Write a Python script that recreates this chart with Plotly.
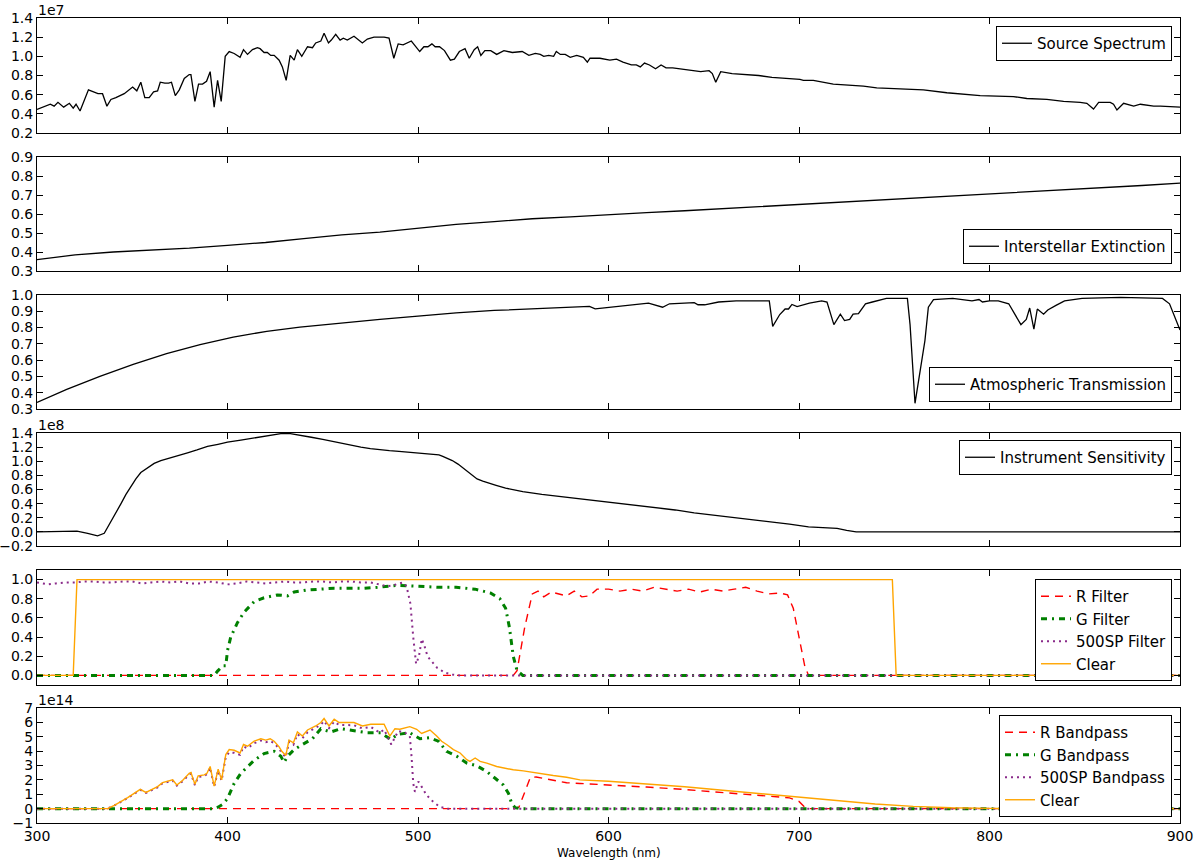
import plotly.graph_objects as go

# ---------------- DATA ----------------
wavelength_ticks = [300, 400, 500, 600, 700, 800, 900]

# Source spectrum (units of 1e7)
src_wl = [300, 304, 307, 309, 311, 314, 317, 319, 320.5, 322.6, 327, 332, 334.4, 336.7, 338.8, 341.4, 345.8,
          350.2, 352.4, 354.5, 356.6, 358.9, 361.2, 363.3, 364.7, 367.1, 369.1, 370.6, 372.6, 374.7, 377.3,
          379.9, 380.8, 382.9, 384.8, 386.9, 389, 390.9, 393, 394.8, 396.7, 398.8, 400.9, 403.5, 406.6, 408.4,
          410.5, 413.1, 415.7, 417.1, 419.2, 420.9, 422.7, 424.5, 427.1, 428.8, 430.8, 432.9, 435, 436.7, 439,
          442, 444.6, 446.3, 449, 450.7, 453, 454.5, 456.8, 459.1, 460.8, 462.9, 466.4, 470.8, 473.4, 476.9,
          482.2, 484.8, 487.3, 489.6, 492.2, 496.5, 500.9, 503.1, 505.2, 507.3, 509, 511.3, 513.9, 517, 519.1,
          521.7, 524.7, 526.9, 529.5, 531.3, 533, 535.1, 538.2, 541.3, 545.1, 549.5, 554.7, 558.2, 561.6, 564.2,
          566, 568.6, 571.2, 572.6, 574.7, 577.3, 579.9, 583.3, 586.8, 588.9, 590.3, 595.5, 600.7, 604.2, 607.6,
          612, 614.6, 616.7, 618.9, 621.5, 624.7, 627.6, 630.2, 633.7, 638, 640.6, 645, 648.4, 652.8, 654.5,
          656.3, 658.9, 664.9, 671.9, 678.8, 685.8, 693.6, 700.5, 702.3, 707.5, 718, 726.8, 733.8, 740.8, 751.3,
          765.3, 777.6, 784.6, 795.1, 812.6, 819.6, 830.1, 838.9, 847.6, 851.1, 854.6, 857.3, 863.4, 865.1,
          866.9, 870.4, 875.7, 879.2, 886.2, 889.7, 900]
src_flux = [0.445, 0.48, 0.50, 0.48, 0.52, 0.47, 0.51, 0.46, 0.50, 0.43, 0.65, 0.61, 0.61, 0.48, 0.55, 0.57, 0.61,
            0.68, 0.64, 0.73, 0.57, 0.57, 0.63, 0.64, 0.73, 0.72, 0.72, 0.73, 0.59, 0.65, 0.77,
            0.81, 0.81, 0.53, 0.71, 0.71, 0.74, 0.84, 0.47, 0.75, 0.53, 1.00, 1.05, 1.03, 0.99, 1.07,
            1.02, 1.07, 1.09, 1.08, 1.04, 1.04, 1.01, 1.01, 0.96, 0.89, 0.75, 1.01, 0.96, 1.07, 1.00,
            1.10, 1.09, 1.14, 1.16, 1.24, 1.14, 1.17, 1.23, 1.17, 1.19, 1.17, 1.21, 1.14, 1.18, 1.20,
            1.20, 1.19, 0.98, 1.13, 1.12, 1.16, 1.05, 1.10, 1.10, 1.13, 1.10, 1.10, 1.06, 0.96, 0.97,
            1.05, 1.08, 0.98, 1.07, 1.10, 1.01, 1.06, 1.06, 1.02, 1.06, 1.04, 1.05, 1.01, 1.03, 1.02,
            1.00, 1.01, 1.00, 1.05, 1.02, 1.02, 0.99, 1.01, 0.99, 0.94, 0.98, 0.98, 0.96, 0.97, 0.94,
            0.91, 0.91, 0.89, 0.93, 0.91, 0.87, 0.91, 0.88, 0.88, 0.87, 0.86, 0.85, 0.84, 0.85, 0.82,
            0.73, 0.84, 0.82, 0.81, 0.80, 0.78, 0.77, 0.76, 0.75, 0.75, 0.71, 0.70, 0.69, 0.67, 0.66,
            0.65, 0.62, 0.61, 0.59, 0.58, 0.56, 0.55, 0.53, 0.52, 0.51, 0.45, 0.52, 0.52, 0.50,
            0.44, 0.51, 0.48, 0.50, 0.48, 0.48, 0.47]

# Interstellar extinction
ext_wl = [300, 320, 340, 360, 380, 400, 420, 440, 460, 480, 500, 520, 540, 560, 580, 600, 620, 640, 660, 680,
          700, 720, 740, 760, 780, 800, 820, 840, 860, 880, 900]
ext_val = [0.36, 0.385, 0.40, 0.41, 0.42, 0.435, 0.45, 0.47, 0.49, 0.505, 0.525, 0.545, 0.56, 0.575, 0.585, 0.597,
           0.607, 0.617, 0.628, 0.64, 0.65, 0.66, 0.672, 0.683, 0.694, 0.705, 0.717, 0.728, 0.74, 0.75, 0.763]

# Atmospheric transmission
atm_wl = [300, 315.6, 333, 350.5, 368, 385.6, 403, 420.6, 438, 460, 480, 500, 520, 540, 560, 580, 590, 593, 597,
          600, 610, 621, 628.4, 632, 645, 647, 650.5, 657.8, 667, 684.4, 686.2, 689.9, 692.7, 694.5, 696.3, 699,
          705.5, 711.9, 714.7, 718.3, 721.7, 723.9, 726.6, 728.4, 731.2, 734.9, 738.5, 745.9, 756.9, 758.3,
          760.9, 763.3, 766.1, 767.9, 770.6, 780.7, 786.2, 790.8, 794.5, 796.3, 800, 804.6, 810.1, 816.5, 819.3,
          821.1, 823.3, 825.1, 828.4, 830.6, 834.9, 839.4, 848.6, 868.8, 890.8, 894.5, 900]
atm_val = [0.34, 0.42, 0.50, 0.574, 0.64, 0.696, 0.742, 0.777, 0.803, 0.83, 0.85, 0.87, 0.89, 0.905, 0.915, 0.925,
           0.93, 0.915, 0.92, 0.925, 0.94, 0.95, 0.925, 0.946, 0.953, 0.94, 0.94, 0.957, 0.964, 0.964, 0.807, 0.88,
           0.914, 0.914, 0.942, 0.929, 0.95, 0.964, 0.957, 0.818, 0.882, 0.843, 0.85, 0.882, 0.886, 0.946, 0.957,
           0.979, 0.979, 0.818, 0.335, 0.517, 0.72, 0.925, 0.972, 0.979, 0.972, 0.964, 0.972, 0.957, 0.964, 0.964,
           0.946, 0.818, 0.85, 0.92, 0.79, 0.914, 0.882, 0.908, 0.936, 0.964, 0.979, 0.985, 0.979, 0.946, 0.785]

# Instrument sensitivity (units of 1e8)
ins_wl = [300, 310, 316, 321, 326.6, 331.8, 335.3, 338.8, 341.5, 344.1, 346.7, 349.3, 351.9, 354.5, 358, 361.5,
          365, 368.5, 374, 379, 384, 389.5, 395, 400, 407, 414, 421, 428, 433, 438.5, 444, 450, 455, 460, 465, 470,
          475, 480, 485, 490, 495, 500, 505, 508, 511, 513, 516, 518, 521, 523, 525, 527, 529, 531, 534, 536,
          541, 546, 555, 565, 575, 585, 595, 605, 615, 625, 635, 645, 655, 665, 675, 685, 695, 705, 712, 720,
          725, 730, 900]
ins_val = [0.0, 0.0, 0.005, 0.01, -0.02, -0.055, -0.02, 0.14, 0.27, 0.40, 0.53, 0.65, 0.75, 0.84, 0.91, 0.97,
           1.01, 1.04, 1.08, 1.12, 1.16, 1.21, 1.24, 1.27, 1.30, 1.33, 1.36, 1.39, 1.39, 1.37, 1.34, 1.31, 1.28,
           1.25, 1.22, 1.20, 1.18, 1.16, 1.15, 1.14, 1.13, 1.12, 1.11, 1.10, 1.09, 1.07, 1.04, 1.01, 0.96, 0.92,
           0.87, 0.83, 0.79, 0.75, 0.72, 0.70, 0.66, 0.62, 0.57, 0.53, 0.50, 0.47, 0.44, 0.40, 0.37, 0.34, 0.31,
           0.27, 0.24, 0.21, 0.18, 0.14, 0.11, 0.07, 0.06, 0.05, 0.02, 0.0, 0.0]

# Filters
r_filt_wl = [300, 550, 552, 556, 560, 563, 566, 570, 574, 578, 582, 586, 590, 594, 600, 606, 612, 618, 624, 630,
             636, 642, 648, 654, 660, 666, 672, 678, 684, 690, 694, 697, 700, 703, 705, 900]
r_filt_val = [0, 0, 0.05, 0.5, 0.85, 0.88, 0.82, 0.87, 0.85, 0.83, 0.88, 0.82, 0.83, 0.90, 0.90, 0.88, 0.90, 0.88,
              0.92, 0.90, 0.88, 0.90, 0.87, 0.90, 0.88, 0.90, 0.92, 0.88, 0.85, 0.86, 0.84, 0.70, 0.40, 0.10, 0.0, 0]

g_filt_wl = [300, 393, 394.8, 397.4, 399.1, 400, 401.7, 405.2, 408.7, 414, 419.2, 426.2, 431.5, 435, 441.1, 449,
             456, 463, 471.7, 478.7, 489.2, 500, 510, 520, 530, 538, 543, 546, 548, 550, 552, 555, 900]
g_filt_val = [0, 0, 0.045, 0.10, 0.10, 0.26, 0.40, 0.55, 0.66, 0.77, 0.81, 0.84, 0.83, 0.87, 0.89, 0.90,
              0.91, 0.91, 0.91, 0.92, 0.94, 0.93, 0.92, 0.92, 0.90, 0.86, 0.80, 0.70, 0.50, 0.20, 0.05, 0.0, 0]

sp_filt_wl = [300, 303, 306, 310, 315, 320, 325, 330, 335, 340, 345, 350, 355, 360, 365, 370, 375, 380, 385, 390,
              395, 400, 405, 410, 415, 420, 425, 430, 435, 440, 445, 450, 455, 460, 465, 470, 475, 480, 484, 487,
              490, 492, 494, 496, 497.5, 499, 500.5, 502, 503.5, 505, 507, 510, 514, 518, 522, 900]
sp_filt_val = [0.97, 0.96, 0.95, 0.96, 0.97, 0.97, 0.98, 0.98, 0.97, 0.97, 0.98, 0.98, 0.96, 0.97, 0.98, 0.97,
               0.98, 0.96, 0.96, 0.98, 0.97, 0.95, 0.96, 0.98, 0.97, 0.96, 0.97, 0.98, 0.97, 0.97, 0.98, 0.98,
               0.97, 0.98, 0.98, 0.97, 0.97, 0.95, 0.93, 0.94, 0.96, 0.97, 0.93, 0.75, 0.40, 0.12, 0.20, 0.38,
               0.30, 0.20, 0.15, 0.08, 0.03, 0.01, 0.0, 0.0]

clear_filt_wl = [300, 319, 321, 749, 751, 900]
clear_filt_val = [0, 0, 1.0, 1.0, 0, 0]

# Bandpasses (units of 1e14)
r_bp_wl = [300, 550, 553, 556, 559, 562, 565, 571, 578, 585, 600, 620, 640, 660, 680, 695, 700, 703, 705, 900]
r_bp_val = [0, 0, 0.1, 1.2, 2.18, 2.2, 2.12, 2.0, 1.8, 1.75, 1.65, 1.5, 1.33, 1.13, 0.93, 0.75, 0.5, 0.1, 0, 0]

g_bp_wl = [300, 393, 395, 397.5, 400, 403.5, 407, 410.5, 414, 419.2, 424.5, 428, 429.7, 431.5, 435, 439.3, 444.6,
           449, 454.2, 459.4, 466.4, 473.4, 480.4, 485.7, 489.2, 495.7, 501, 506.3, 510.7, 515, 520.4, 525.6,
           530.9, 536.1, 540.5, 544.8, 547.5, 549.2, 551, 553.6, 900]
g_bp_val = [0, 0, 0.1, 0.3, 0.7, 1.76, 2.46, 2.93, 3.36, 3.83, 3.99, 3.64, 3.22, 3.64, 4.11, 4.46, 4.86,
            5.56, 5.33, 5.56, 5.40, 5.28, 5.28, 4.81, 5.16, 5.28, 4.86, 4.93, 4.69, 3.99, 3.64, 3.17,
            2.98, 2.58, 2.11, 1.64, 1.06, 0.35, 0.07, 0, 0]

sp_bp_wl = [300, 325, 334, 337, 340.6, 344, 347.6, 351, 354.2, 357.2, 360.7, 363.3, 365.9, 368.5, 371.2, 373.4,
            376.4, 379.9, 380.8, 382.9, 384.6, 387.8, 389.2, 390.9, 393, 395.1, 396.9, 399.1, 400.9, 403.5, 406.6,
            408.4, 410.5, 414, 417.5, 420.1, 422.4, 424.5, 427.1, 428.5, 430.6, 432.3, 434.6, 436.7, 439.3, 442,
            446.3, 449, 450.7, 453.3, 456, 458.6, 461.2, 466.4, 470.8, 475.2, 480, 482.2, 486, 489.6, 493, 495.7,
            496.6, 497.5, 498.4, 500.2, 501.9, 504.5, 508, 511.5, 515, 900]
sp_bp_val = [0, -0.03, -0.02, 0, 0.22, 0.45, 0.74, 1.02, 1.30, 1.10, 1.30, 1.48, 1.76, 1.83, 1.95, 1.60,
             1.90, 2.38, 2.44, 1.63, 2.21, 2.27, 2.40, 2.85, 1.52, 2.66, 1.94, 3.60, 3.92, 3.88, 3.74,
             4.32, 4.20, 4.55, 4.74, 4.62, 4.70, 4.55, 4.18, 3.86, 3.58, 4.64, 4.45, 5.18, 4.90, 5.30,
             5.60, 5.83, 6.10, 5.60, 6.05, 5.82, 5.82, 5.80, 5.58, 5.68, 5.28, 5.50, 4.46, 5.40, 5.30, 5.05,
             3.64, 1.76, 1.17, 1.88, 1.53, 0.94, 0.47, 0.12, 0.0, 0]

clear_bp_wl = [300, 325, 334, 337, 340.6, 344, 347.6, 351, 354.2, 357.2, 360.7, 363.3, 365.9, 368.5, 371.2, 373.4,
               376.4, 379.9, 380.8, 382.9, 384.6, 387.8, 389.2, 390.9, 393, 395.1, 396.9, 399.1, 400.9, 403.5,
               406.6, 408.4, 410.5, 414, 417.5, 420.1, 422.4, 424.5, 427.1, 428.5, 430.6, 432.3, 434.6, 436.7,
               439.3, 442, 446.3, 449, 450.7, 453.3, 456, 458.6, 461.2, 466.4, 470.8, 475.2, 482.2, 485.2, 487.9,
               490.5, 495.7, 499.3, 501.9, 506.3, 509.8, 512.4, 515, 518.6, 522.1, 525.6, 527.3, 530, 532.6,
               536.1, 541.3, 546.6, 550, 555.3, 562.3, 571, 578, 585, 600, 620, 640, 660, 680, 700, 720, 740,
               760, 780, 800, 820, 900]
clear_bp_val = [0, -0.03, -0.02, 0, 0.23, 0.47, 0.77, 1.06, 1.34, 1.13, 1.34, 1.53, 1.81, 1.88, 2.0, 1.64,
                1.95, 2.46, 2.51, 1.69, 2.28, 2.35, 2.46, 2.93, 1.57, 2.75, 2.0, 3.76, 4.11, 4.06,
                3.87, 4.46, 4.34, 4.69, 4.86, 4.77, 4.86, 4.69, 4.30, 3.99, 3.69, 4.77, 4.58, 5.33,
                5.05, 5.47, 5.75, 5.99, 6.27, 5.75, 6.22, 5.99, 5.99, 5.99, 5.75, 5.87, 5.87, 5.05, 5.56,
                5.52, 5.70, 5.52, 5.23, 5.47, 5.05, 4.69, 4.46, 4.11, 3.87, 3.40, 3.29, 3.52, 3.29,
                3.17, 2.93, 2.77, 2.70, 2.63, 2.46, 2.30, 2.18, 2.0, 1.9, 1.72, 1.52, 1.28, 1.03, 0.78, 0.53, 0.32,
                0.16, 0.06, 0.02, 0.0, 0.0]

# ---------------- FIGURE ----------------
FONT = "DejaVu Sans"
W, H = 1196, 863
L, R, T, B = 37, 1196 - 1180, 18, 863 - 823
plot_h = H - T - B
plot_w = W - L - R
BOT = H - B

def ydom(top_px, bot_px):
    return [(BOT - bot_px) / plot_h, (BOT - top_px) / plot_h]

panels = [
    dict(dom=ydom(18, 133), rng=[0.2, 1.4], tv=[0.2, 0.4, 0.6, 0.8, 1.0, 1.2, 1.4], fmt=".1f", off="1e7"),
    dict(dom=ydom(157, 271), rng=[0.3, 0.9], tv=[0.3, 0.4, 0.5, 0.6, 0.7, 0.8, 0.9], fmt=".1f", off=None),
    dict(dom=ydom(295, 409), rng=[0.3, 1.0], tv=[0.3, 0.4, 0.5, 0.6, 0.7, 0.8, 0.9, 1.0], fmt=".1f", off=None),
    dict(dom=ydom(433, 546), rng=[-0.2, 1.4], tv=[-0.2, 0, 0.2, 0.4, 0.6, 0.8, 1.0, 1.2, 1.4], fmt=".1f", off="1e8"),
    dict(dom=ydom(570, 685), rng=[-0.1, 1.1], tv=[0, 0.2, 0.4, 0.6, 0.8, 1.0], fmt=".1f", off=None),
    dict(dom=ydom(708, 823), rng=[-1, 7], tv=[-1, 0, 1, 2, 3, 4, 5, 6, 7], fmt="d", off="1e14"),
]

fig = go.Figure()

def ax(i):
    return ("x" if i == 1 else f"x{i}"), ("y" if i == 1 else f"y{i}"), ("legend" if i == 1 else f"legend{i}")

black = dict(color="black", width=1.3)
sty = {
    "R": dict(color="#ff0000", width=1.4, dash="8px,6px"),
    "G": dict(color="#008000", width=3, dash="6px,5px,2px,5px"),
    "SP": dict(color="#8a2b8a", width=2, dash="2px,4px"),
    "C": dict(color="#ffa500", width=1.4),
}

series = [
    (1, src_wl, src_flux, "Source Spectrum", black),
    (2, ext_wl, ext_val, "Interstellar Extinction", black),
    (3, atm_wl, atm_val, "Atmospheric Transmission", black),
    (4, ins_wl, ins_val, "Instrument Sensitivity", black),
    (5, r_filt_wl, r_filt_val, "R Filter", sty["R"]),
    (5, g_filt_wl, g_filt_val, "G Filter", sty["G"]),
    (5, sp_filt_wl, sp_filt_val, "500SP Filter", sty["SP"]),
    (5, clear_filt_wl, clear_filt_val, "Clear", sty["C"]),
    (6, r_bp_wl, r_bp_val, "R Bandpass", sty["R"]),
    (6, g_bp_wl, g_bp_val, "G Bandpass", sty["G"]),
    (6, sp_bp_wl, sp_bp_val, "500SP Bandpass", sty["SP"]),
    (6, clear_bp_wl, clear_bp_val, "Clear", sty["C"]),
]

for i, xs, ys, name, line in series:
    xa, ya, lg = ax(i)
    fig.add_trace(go.Scatter(x=xs, y=ys, mode="lines", name=name, line=line,
                             xaxis=xa, yaxis=ya, legend=lg, showlegend=True))

layout = dict(
    width=W, height=H,
    margin=dict(l=L, r=R, t=T, b=B, pad=0, autoexpand=False),
    paper_bgcolor="white", plot_bgcolor="white",
    font=dict(family=FONT, size=14, color="black"),
    showlegend=True,
)

axis_common = dict(showline=True, linecolor="black", linewidth=1, mirror="ticks",
                   ticks="inside", ticklen=6, tickcolor="black", showgrid=False, zeroline=False,
                   automargin=False,
                   tickfont=dict(family=FONT, size=14, color="black"))

lx = (1172 - L) / plot_w
legend_pos = {
    1: dict(y=(BOT - 26) / plot_h, yanchor="top"),
    2: dict(y=(BOT - 264) / plot_h, yanchor="bottom"),
    3: dict(y=(BOT - 402) / plot_h, yanchor="bottom"),
    4: dict(y=(BOT - 440) / plot_h, yanchor="top"),
    5: dict(y=(BOT - 579) / plot_h, yanchor="top"),
    6: dict(y=(BOT - 715) / plot_h, yanchor="top"),
}

annotations = []
for i, p in enumerate(panels, start=1):
    xa, ya, lg = ax(i)
    xkey = "xaxis" if i == 1 else f"xaxis{i}"
    ykey = "yaxis" if i == 1 else f"yaxis{i}"
    xd = dict(axis_common, domain=[0, 1], range=[300, 900], tickvals=wavelength_ticks,
              showticklabels=(i == 6), anchor=ya)
    if i > 1:
        xd["matches"] = "x"
    layout[xkey] = xd
    layout[ykey] = dict(axis_common, domain=p["dom"], range=p["rng"], tickvals=p["tv"],
                        tickformat=p["fmt"], anchor=xa)
    lp = legend_pos[i]
    layout[lg] = dict(x=lx, y=lp["y"], xanchor="right", yanchor=lp["yanchor"],
                      xref="paper", yref="paper",
                      bgcolor="white", bordercolor="black", borderwidth=1,
                      font=dict(family=FONT, size=15, color="black"),
                      itemwidth=30, tracegroupgap=0)
    if p["off"]:
        annotations.append(dict(text=p["off"], xref="paper", yref="paper", x=0, y=p["dom"][1],
                                xanchor="left", yanchor="bottom", showarrow=False, yshift=-1,
                                borderpad=0,
                                font=dict(family=FONT, size=14, color="black")))

annotations.append(dict(text="Wavelength (nm)", xref="paper", yref="paper", x=0.5,
                        y=-(853 - BOT) / plot_h,
                        xanchor="center", yanchor="middle", showarrow=False,
                        font=dict(family=FONT, size=12, color="black")))
layout["annotations"] = annotations

fig.update_layout(**layout)
fig.write_html("out.html",
               config={"displayModeBar": False},
               post_script="document.documentElement.style.margin='0';"
                           "document.body.style.margin='0';document.body.style.padding='0';"
                           "document.body.style.overflow='hidden';")
